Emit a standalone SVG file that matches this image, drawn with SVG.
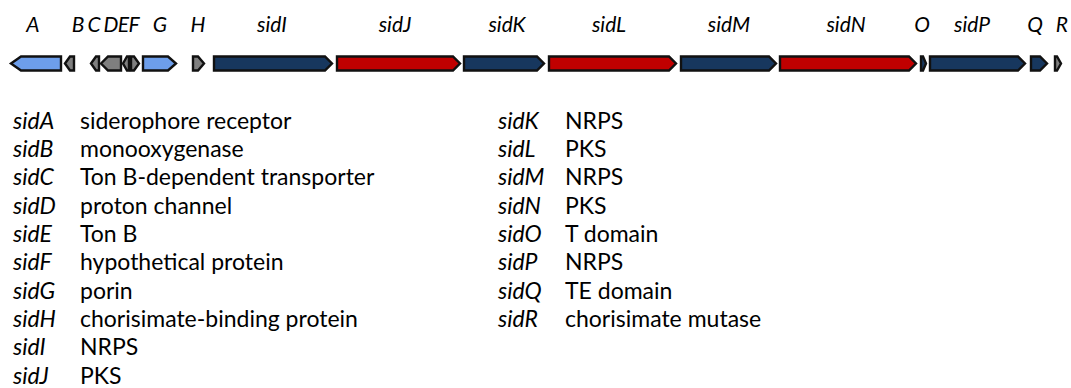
<svg xmlns="http://www.w3.org/2000/svg" width="1071" height="388" viewBox="0 0 1071 388">
  <style>
    .gene { stroke: #111; stroke-width: 2.4; stroke-linejoin: miter; }
    .receptor { fill: #6d9eeb; }
    .misc { fill: #7f7f7f; }
    .nrps { fill: #17375e; }
    .pks { fill: #c00000; }
    text { font-family: Lato, "Open Sans", sans-serif; fill: #000; }
    .lbl { font-size: 21px; font-style: italic; text-anchor: middle; }
    .gname { font-size: 23px; font-style: italic; }
    .gdesc { font-size: 23px; }
  </style>

  <!-- gene arrows: body between y=56.5 and y=70.5, tip at y=63.5 -->
  <g id="gene-arrows">
    <g id="sidA"><polygon class="gene receptor" points="11,63.5 21,56.5 61,56.5 61,70.5 21,70.5"/></g>
    <g id="sidB"><polygon class="gene misc" points="65,63.5 70,56.5 74,56.5 74,70.5 70,70.5"/></g>
    <g id="sidC"><polygon class="gene misc" points="91,63.5 96,56.5 99,56.5 99,70.5 96,70.5"/></g>
    <g id="sidD"><polygon class="gene misc" points="101,63.5 108,56.5 121,56.5 121,70.5 108,70.5"/></g>
    <g id="sidE"><polygon class="gene misc" points="123,63.5 127,56.5 129,56.5 129,70.5 127,70.5"/></g>
    <g id="sidF"><polygon class="gene misc" points="131,56.5 134,56.5 139,63.5 134,70.5 131,70.5"/></g>
    <g id="sidG"><polygon class="gene receptor" points="143,56.5 168,56.5 176,63.5 168,70.5 143,70.5"/></g>
    <g id="sidH"><polygon class="gene misc" points="193,56.5 198,56.5 204,63.5 198,70.5 193,70.5"/></g>
    <g id="sidI"><polygon class="gene nrps" points="214,56.5 325,56.5 332,63.5 325,70.5 214,70.5"/></g>
    <g id="sidJ"><polygon class="gene pks" points="337,56.5 453,56.5 460,63.5 453,70.5 337,70.5"/></g>
    <g id="sidK"><polygon class="gene nrps" points="464,56.5 537,56.5 544,63.5 537,70.5 464,70.5"/></g>
    <g id="sidL"><polygon class="gene pks" points="549,56.5 669,56.5 676,63.5 669,70.5 549,70.5"/></g>
    <g id="sidM"><polygon class="gene nrps" points="681,56.5 769,56.5 776,63.5 769,70.5 681,70.5"/></g>
    <g id="sidN"><polygon class="gene pks" points="780,56.5 909,56.5 916,63.5 909,70.5 780,70.5"/></g>
    <g id="sidO"><polygon class="gene nrps" points="921,56.5 923,56.5 926,63.5 923,70.5 921,70.5"/></g>
    <g id="sidP"><polygon class="gene nrps" points="930,56.5 1018,56.5 1025,63.5 1018,70.5 930,70.5"/></g>
    <g id="sidQ"><polygon class="gene nrps" points="1031,56.5 1040,56.5 1047,63.5 1040,70.5 1031,70.5"/></g>
    <g id="sidR"><polygon class="gene misc" points="1055,56.5 1057,56.5 1061,63.5 1057,70.5 1055,70.5"/></g>
  </g>

  <!-- gene labels above the arrows -->
  <g id="gene-labels">
    <text class="lbl" x="33" y="32">A</text>
    <text class="lbl" x="78" y="32">B</text>
    <text class="lbl" x="94" y="32">C</text>
    <text class="lbl" x="111" y="32">D</text>
    <text class="lbl" x="123.5" y="32">E</text>
    <text class="lbl" x="134" y="32">F</text>
    <text class="lbl" x="160" y="32">G</text>
    <text class="lbl" x="198" y="32">H</text>
    <text class="lbl" x="272" y="32">sidI</text>
    <text class="lbl" x="395" y="32">sidJ</text>
    <text class="lbl" x="507" y="32">sidK</text>
    <text class="lbl" x="609" y="32">sidL</text>
    <text class="lbl" x="729" y="32">sidM</text>
    <text class="lbl" x="846" y="32">sidN</text>
    <text class="lbl" x="922" y="32">O</text>
    <text class="lbl" x="972" y="32">sidP</text>
    <text class="lbl" x="1035" y="32">Q</text>
    <text class="lbl" x="1062" y="32">R</text>
  </g>

  <!-- legend, left column -->
  <g id="legend-left">
    <text class="gname" x="13" y="128.5">sidA</text><text class="gdesc" x="80" y="128.5">siderophore receptor</text>
    <text class="gname" x="13" y="156.9">sidB</text><text class="gdesc" x="80" y="156.9">monooxygenase</text>
    <text class="gname" x="13" y="185.2">sidC</text><text class="gdesc" x="80" y="185.2">Ton B-dependent transporter</text>
    <text class="gname" x="13" y="213.6">sidD</text><text class="gdesc" x="80" y="213.6">proton channel</text>
    <text class="gname" x="13" y="241.9">sidE</text><text class="gdesc" x="80" y="241.9">Ton B</text>
    <text class="gname" x="13" y="270.3">sidF</text><text class="gdesc" x="80" y="270.3">hypothetical protein</text>
    <text class="gname" x="13" y="298.6">sidG</text><text class="gdesc" x="80" y="298.6">porin</text>
    <text class="gname" x="13" y="327">sidH</text><text class="gdesc" x="80" y="327">chorisimate-binding protein</text>
    <text class="gname" x="13" y="355.3">sidI</text><text class="gdesc" x="80" y="355.3">NRPS</text>
    <text class="gname" x="13" y="383.7">sidJ</text><text class="gdesc" x="80" y="383.7">PKS</text>
  </g>

  <!-- legend, right column -->
  <g id="legend-right">
    <text class="gname" x="498" y="128.5">sidK</text><text class="gdesc" x="565" y="128.5">NRPS</text>
    <text class="gname" x="498" y="156.9">sidL</text><text class="gdesc" x="565" y="156.9">PKS</text>
    <text class="gname" x="498" y="185.2">sidM</text><text class="gdesc" x="565" y="185.2">NRPS</text>
    <text class="gname" x="498" y="213.6">sidN</text><text class="gdesc" x="565" y="213.6">PKS</text>
    <text class="gname" x="498" y="241.9">sidO</text><text class="gdesc" x="565" y="241.9">T domain</text>
    <text class="gname" x="498" y="270.3">sidP</text><text class="gdesc" x="565" y="270.3">NRPS</text>
    <text class="gname" x="498" y="298.6">sidQ</text><text class="gdesc" x="565" y="298.6">TE domain</text>
    <text class="gname" x="498" y="327">sidR</text><text class="gdesc" x="565" y="327">chorisimate mutase</text>
  </g>
</svg>
